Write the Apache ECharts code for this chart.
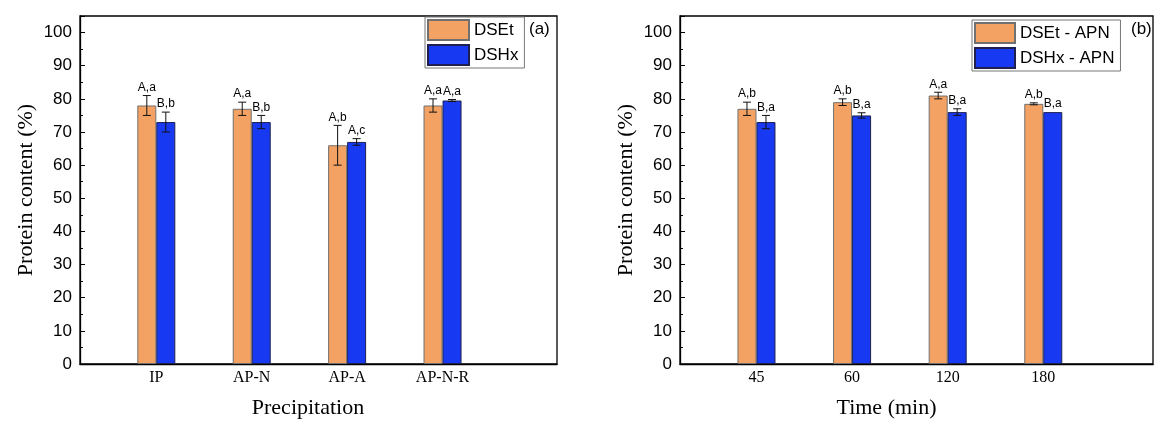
<!DOCTYPE html>
<html><head><meta charset="utf-8">
<script src="https://cdn.jsdelivr.net/npm/echarts@6/dist/echarts.min.js"></script>
<style>html,body{margin:0;background:#fff}#c{width:1156px;height:424px}</style>
</head><body><div id="c"></div>
<script>
// ---- data ----
const catsA = ['IP', 'AP-N', 'AP-A', 'AP-N-R'];
const dsetA = [78, 77, 66, 78];
const dsetAErr = [3, 2, 6, 2];
const dshxA = [73, 73, 67, 79.5];
const dshxAErr = [3, 2, 1, 0.3];
const lettersDsetA = ['A,a', 'A,a', 'A,b', 'A,a'];
const lettersDshxA = ['B,b', 'B,b', 'A,c', 'A,a'];

const catsB = ['45', '60', '120', '180'];
const dsetB = [77, 79, 81, 78.5];
const dsetBErr = [2, 1, 1, 0.3];
const dshxB = [73, 75, 76, 76];
const dshxBErr = [2, 0.8, 1, 0];
const lettersDsetB = ['A,b', 'A,b', 'A,a', 'A,b'];
const lettersDshxB = ['B,a', 'B,a', 'B,a', 'B,a'];

const namesA = ['DSEt', 'DSHx'];
const namesB = ['DSEt - APN', 'DSHx - APN'];
const catPositions = [1, 2, 3, 4];

// ---- styles ----
const ORANGE = '#F3A263';
const BLUE = '#1739F2';
const BAR_W = 19;
const SERIF = '"Liberation Serif","Times New Roman",serif';
const SANS = '"Liberation Sans",Arial,sans-serif';

const chart = echarts.init(document.getElementById('c'), null, {renderer: 'canvas'});

function xAxisFor(idx, cats, max, name, shift) {
  return {
    type: 'value', gridIndex: idx, min: 0.2, max: max,
    axisLine: {show: true, lineStyle: {color: '#000', width: 1.3}},
    axisTick: {show: false},
    splitLine: {show: false},
    axisLabel: {
      customValues: catPositions,
      formatter: v => cats[Math.round(v) - 1] || '',
      fontFamily: SERIF, fontSize: 16, color: '#000', margin: 6
    },
    name: name, nameLocation: 'middle', nameGap: 33,
    nameTextStyle: {fontFamily: SERIF, fontSize: 22, color: '#000', padding: [0, shift, 0, 0]}
  };
}
function yAxisFor(idx) {
  return {
    type: 'value', gridIndex: idx, min: 0, max: 105, interval: 10,
    axisLine: {show: true, lineStyle: {color: '#000', width: 1.3}},
    axisTick: {show: true, inside: true, length: 5, lineStyle: {color: '#000'}},
    minorTick: {show: true, splitNumber: 2, length: 3, lineStyle: {color: '#000'}},
    splitLine: {show: false},
    axisLabel: {fontFamily: SANS, fontSize: 17, color: '#000', margin: 8, showMaxLabel: false,
      formatter: v => (v % 10 === 0 ? String(v) : '')},
    name: 'Protein content (%)', nameLocation: 'middle', nameGap: 43,
    nameTextStyle: {fontFamily: SERIF, fontSize: 22, color: '#000'}
  };
}

function barSeries(name, idx, vals, color, border) {
  return {
    name: name, type: 'bar', xAxisIndex: idx, yAxisIndex: idx,
    barWidth: BAR_W, barGap: '0%',
    itemStyle: {color: color, borderColor: border, borderWidth: 1},
    data: vals.map((v, i) => [catPositions[i], v])
  };
}
function errSeries(idx, vals, errs, letters, side) {
  return {
    type: 'custom', xAxisIndex: idx, yAxisIndex: idx, silent: true, z: 5,
    encode: {x: 0, y: 1},
    data: vals.map((v, i) => [catPositions[i], v, errs[i], i]),
    renderItem: (params, api) => {
      const x = api.value(0), y = api.value(1), e = api.value(2), k = api.value(3);
      const top = api.coord([x, y + e]);
      const bot = api.coord([x, y - e]);
      const cx = top[0] + side * BAR_W / 2;
      const children = [];
      if (e > 0) {
        const ls = {stroke: '#111', lineWidth: 1};
        children.push({type: 'line', shape: {x1: cx, y1: top[1], x2: cx, y2: bot[1]}, style: ls});
        children.push({type: 'line', shape: {x1: cx - 4, y1: top[1], x2: cx + 4, y2: top[1]}, style: ls});
        children.push({type: 'line', shape: {x1: cx - 4, y1: bot[1], x2: cx + 4, y2: bot[1]}, style: ls});
      }
      children.push({type: 'text', style: {text: letters[k], x: cx, y: top[1] - 2,
        align: 'center', verticalAlign: 'bottom', fontFamily: SANS, fontSize: 12, fill: '#000'}});
      return {type: 'group', children: children};
    }
  };
}

const option = {
  backgroundColor: '#fff',
  animation: false,
  grid: [
    {left: 80, top: 16, width: 477, height: 355, show: true, borderColor: '#000', borderWidth: 1.3},
    {left: 680, top: 16, width: 473, height: 355, show: true, borderColor: '#000', borderWidth: 1.3}
  ],
  xAxis: [
    xAxisFor(0, catsA, 5.2, 'Precipitation', 21),
    xAxisFor(1, catsB, 0.2 + 473 / 95.6, 'Time (min)', 60)
  ],
  yAxis: [yAxisFor(0), yAxisFor(1)],
  legend: [
    {data: namesA, orient: 'vertical', left: 425, top: 17, itemWidth: 41, itemHeight: 20, itemGap: 3,
     padding: [2, 6, 2, 2], borderColor: '#777', borderWidth: 1, icon: 'rect',
     textStyle: {fontFamily: SANS, fontSize: 17, color: '#000'}},
    {data: namesB, orient: 'vertical', left: 972, top: 20, itemWidth: 40, itemHeight: 20, itemGap: 3,
     padding: [2, 6, 2, 2], borderColor: '#777', borderWidth: 1, icon: 'rect',
     textStyle: {fontFamily: SANS, fontSize: 17, color: '#000'}}
  ],
  title: [
    {text: '(a)', left: 529, top: 21, padding: 0, textStyle: {fontFamily: SANS, fontSize: 17, fontWeight: 'normal', color: '#000'}},
    {text: '(b)', left: 1131, top: 21, padding: 0, textStyle: {fontFamily: SANS, fontSize: 17, fontWeight: 'normal', color: '#000'}}
  ],
  series: [
    barSeries(namesA[0], 0, dsetA, ORANGE, '#707070'),
    barSeries(namesA[1], 0, dshxA, BLUE, '#202050'),
    errSeries(0, dsetA, dsetAErr, lettersDsetA, -1),
    errSeries(0, dshxA, dshxAErr, lettersDshxA, 1),
    barSeries(namesB[0], 1, dsetB, ORANGE, '#707070'),
    barSeries(namesB[1], 1, dshxB, BLUE, '#202050'),
    errSeries(1, dsetB, dsetBErr, lettersDsetB, -1),
    errSeries(1, dshxB, dshxBErr, lettersDshxB, 1)
  ]
};
chart.setOption(option);
</script>
</body></html>
